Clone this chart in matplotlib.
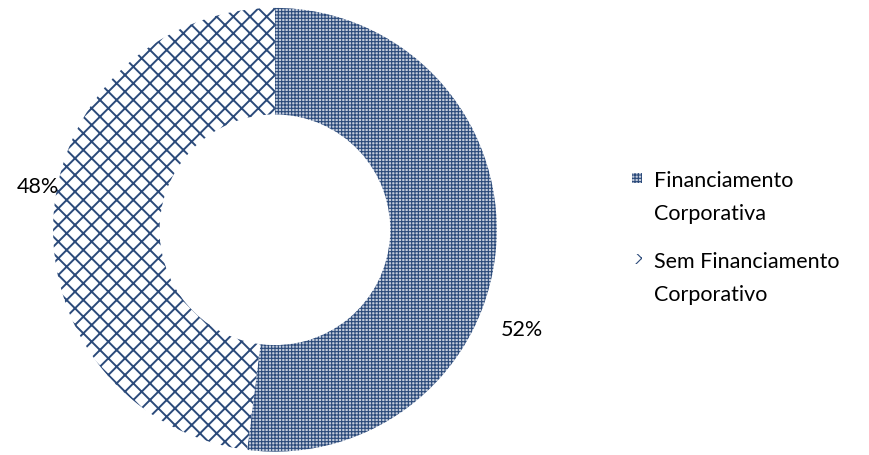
import matplotlib
matplotlib.use('Agg')
import matplotlib.pyplot as plt
from matplotlib.patches import Rectangle

labels = ['Financiamento\nCorporativa', 'Sem Financiamento\nCorporativo']
values = [52, 48]
pct_labels = ['52%', '48%']

navy = '#2B4A7A'
light = '#C3CCDB'
plt.rcParams['font.family'] = ['Lato', 'DejaVu Sans']
plt.rcParams['hatch.linewidth'] = 0.8

fig = plt.figure(figsize=(8.7, 4.55), dpi=100)
ax = fig.add_axes([0.061, 0.007, 0.510, 0.976])

wedges, _ = ax.pie(values, startangle=90, counterclock=False,
                   wedgeprops=dict(width=0.48, linewidth=0))
wedges[0].set_facecolor(light)
wedges[0].set_edgecolor(navy)
wedges[0].set_hatch('+++++')
wedges[1].set_facecolor('white')
wedges[1].set_edgecolor(navy)
wedges[1].set_hatch('xx')
if hasattr(wedges[1], 'set_hatch_linewidth'):
    wedges[1].set_hatch_linewidth(1.4)
ax.set_xlim(-1, 1)
ax.set_ylim(-1, 1)
ax.set_aspect('equal')

ax.text(1.112, -0.45, pct_labels[0], fontsize=15.5, ha='center', va='center')
ax.text(-1.07, 0.195, pct_labels[1], fontsize=15.5, ha='center', va='center')

# legend drawn by hand so the swatch sits beside the first line
W, H = 870, 455
base_y = [187, 268]
for i, (lab, by) in enumerate(zip(labels, base_y)):
    sw = Rectangle((632 / W, 1 - (by - 4) / H), 10 / W, 10 / H, transform=fig.transFigure,
                   facecolor=wedges[i].get_facecolor(), edgecolor=navy,
                   hatch=wedges[i].get_hatch(), linewidth=0)
    fig.patches.append(sw)
    for j, line in enumerate(lab.split('\n')):
        fig.text(654 / W, 1 - (by + 33 * j) / H, line, fontsize=15.5,
                 ha='left', va='baseline')

fig.savefig('out.png', dpi=100)
